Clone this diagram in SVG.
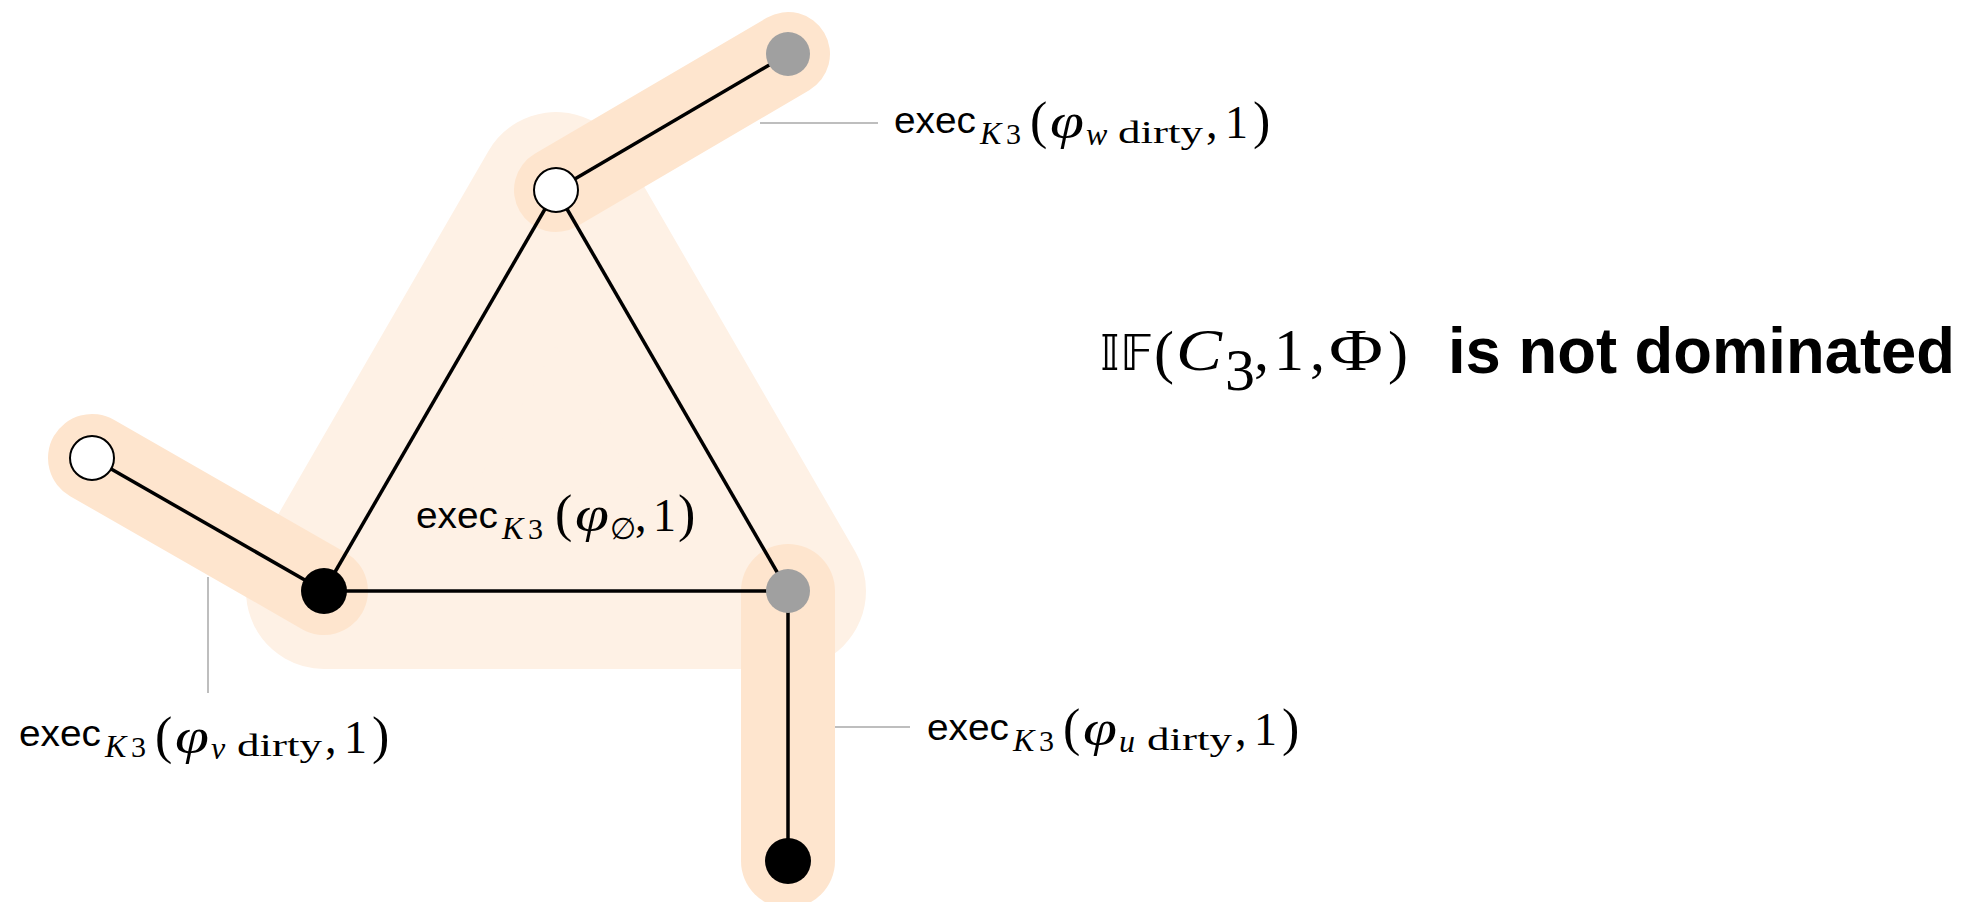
<svg xmlns="http://www.w3.org/2000/svg" width="1967" height="902" viewBox="0 0 1967 902">
<style>
.halo{fill:#FEF1E5;stroke:#FEF1E5;stroke-width:156;stroke-linejoin:round}
.band{stroke:#FEE5CE;stroke-linecap:round;fill:none}
.edge{stroke:#000;stroke-width:3.5;fill:none}
.lead{stroke:#A8A8A8;stroke-width:1.5;fill:none}
.nw{fill:#fff;stroke:#000;stroke-width:2}
.nb{fill:#000}
.ng{fill:#A0A0A0}
text{fill:#000}
.sans{font-family:"Liberation Sans",Arial,sans-serif;font-size:37px}
.m{font-family:"Liberation Serif",serif;font-size:46px}
.it{font-style:italic}
.k{font-family:"Liberation Serif",serif;font-size:32px;font-style:italic}
.s3{font-family:"Liberation Serif",serif;font-size:30px}
.par{font-family:"Liberation Serif",serif;font-size:52px}
.phi{font-family:"Liberation Serif",serif;font-size:50px;font-style:italic}
.sv{font-family:"Liberation Serif",serif;font-size:32px;font-style:italic}
.dirty{font-family:"Liberation Serif",serif;font-size:32px}
.t{font-family:"Liberation Serif",serif;font-size:60px}
.bb{font-family:"DejaVu Sans",sans-serif;font-size:50px}
.bold{font-family:"Liberation Sans",Arial,sans-serif;font-weight:bold;font-size:64px}
</style>
<g id="halos">
<polygon class="halo" points="556,190 324,591 788,591"/>
<line class="band" x1="556" y1="190" x2="788" y2="54" stroke-width="84"/>
<line class="band" x1="92" y1="458" x2="324" y2="591" stroke-width="88"/>
<line class="band" x1="788" y1="591" x2="788" y2="861" stroke-width="94"/>
</g>
<g id="connectors">
<line class="edge" x1="556" y1="190" x2="788" y2="54"/>
<line class="edge" x1="556" y1="190" x2="324" y2="591"/>
<line class="edge" x1="556" y1="190" x2="788" y2="591"/>
<line class="edge" x1="324" y1="591" x2="788" y2="591"/>
<line class="edge" x1="92" y1="458" x2="324" y2="591"/>
<line class="edge" x1="788" y1="591" x2="788" y2="861"/>
<line class="lead" x1="760" y1="123" x2="878" y2="123"/>
<line class="lead" x1="208" y1="577" x2="208" y2="693"/>
<line class="lead" x1="835" y1="727" x2="910" y2="727"/>
</g>
<g id="node-w"><circle class="nw" cx="556" cy="190" r="22"/></g>
<g id="node-w2"><circle class="ng" cx="788" cy="54" r="22"/></g>
<g id="node-v"><circle class="nb" cx="324" cy="591" r="23"/></g>
<g id="node-v2"><circle class="nw" cx="92" cy="458" r="22"/></g>
<g id="node-u"><circle class="ng" cx="788" cy="591" r="22"/></g>
<g id="node-u2"><circle class="nb" cx="788" cy="861" r="23"/></g>
<g id="label-w">
<text class="sans" x="894" y="133" textLength="82" lengthAdjust="spacingAndGlyphs">exec</text>
<text class="k" x="980" y="144">K</text>
<text class="s3" x="1006" y="144">3</text>
<text class="par" x="1030" y="138">(</text>
<text class="phi" x="1050" y="138" textLength="34" lengthAdjust="spacingAndGlyphs">φ</text>
<text class="sv" x="1086" y="145">w</text>
<text class="dirty" x="1118" y="143" textLength="85" lengthAdjust="spacingAndGlyphs">dirty</text>
<text class="m" x="1206" y="138">,</text>
<text class="m" x="1225" y="138">1</text>
<text class="par" x="1253" y="138">)</text>
</g>
<g id="label-v">
<text class="sans" x="19" y="746" textLength="82" lengthAdjust="spacingAndGlyphs">exec</text>
<text class="k" x="105" y="757">K</text>
<text class="s3" x="131" y="757">3</text>
<text class="par" x="155" y="753">(</text>
<text class="phi" x="175" y="753" textLength="34" lengthAdjust="spacingAndGlyphs">φ</text>
<text class="sv" x="211" y="759">v</text>
<text class="dirty" x="237" y="756" textLength="85" lengthAdjust="spacingAndGlyphs">dirty</text>
<text class="m" x="325" y="753">,</text>
<text class="m" x="344" y="753">1</text>
<text class="par" x="372" y="753">)</text>
</g>
<g id="label-u">
<text class="sans" x="927" y="740" textLength="82" lengthAdjust="spacingAndGlyphs">exec</text>
<text class="k" x="1013" y="751">K</text>
<text class="s3" x="1039" y="751">3</text>
<text class="par" x="1063" y="745">(</text>
<text class="phi" x="1083" y="745" textLength="34" lengthAdjust="spacingAndGlyphs">φ</text>
<text class="sv" x="1119" y="752">u</text>
<text class="dirty" x="1147" y="750" textLength="85" lengthAdjust="spacingAndGlyphs">dirty</text>
<text class="m" x="1235" y="745">,</text>
<text class="m" x="1254" y="745">1</text>
<text class="par" x="1282" y="745">)</text>
</g>
<g id="label-center">
<text class="sans" x="416" y="528" textLength="82" lengthAdjust="spacingAndGlyphs">exec</text>
<text class="k" x="502" y="539">K</text>
<text class="s3" x="528" y="539">3</text>
<text class="par" x="555" y="531">(</text>
<text class="phi" x="575" y="531" textLength="34" lengthAdjust="spacingAndGlyphs">φ</text>
<text class="s3" x="610" y="539" font-size="25">∅</text>
<text class="m" x="635" y="531">,</text>
<text class="m" x="653" y="531">1</text>
<text class="par" x="678" y="531">)</text>
</g>
<g id="title">
<text class="bb" x="1100" y="370">𝕀𝔽</text>
<text class="t" x="1154" y="372" font-size="84">(</text>
<text class="t it" x="1176" y="370" font-size="66" textLength="46" lengthAdjust="spacingAndGlyphs">C</text>
<text class="t" x="1225" y="390" font-size="36">3</text>
<text class="t" x="1254" y="370">,</text>
<text class="t" x="1274" y="370">1</text>
<text class="t" x="1310" y="370">,</text>
<text class="t" x="1329" y="370" font-size="68" textLength="54" lengthAdjust="spacingAndGlyphs">Φ</text>
<text class="t" x="1388" y="372" font-size="84">)</text>
<text class="bold" x="1448" y="373" textLength="507" lengthAdjust="spacingAndGlyphs">is not dominated</text>
</g>
</svg>
